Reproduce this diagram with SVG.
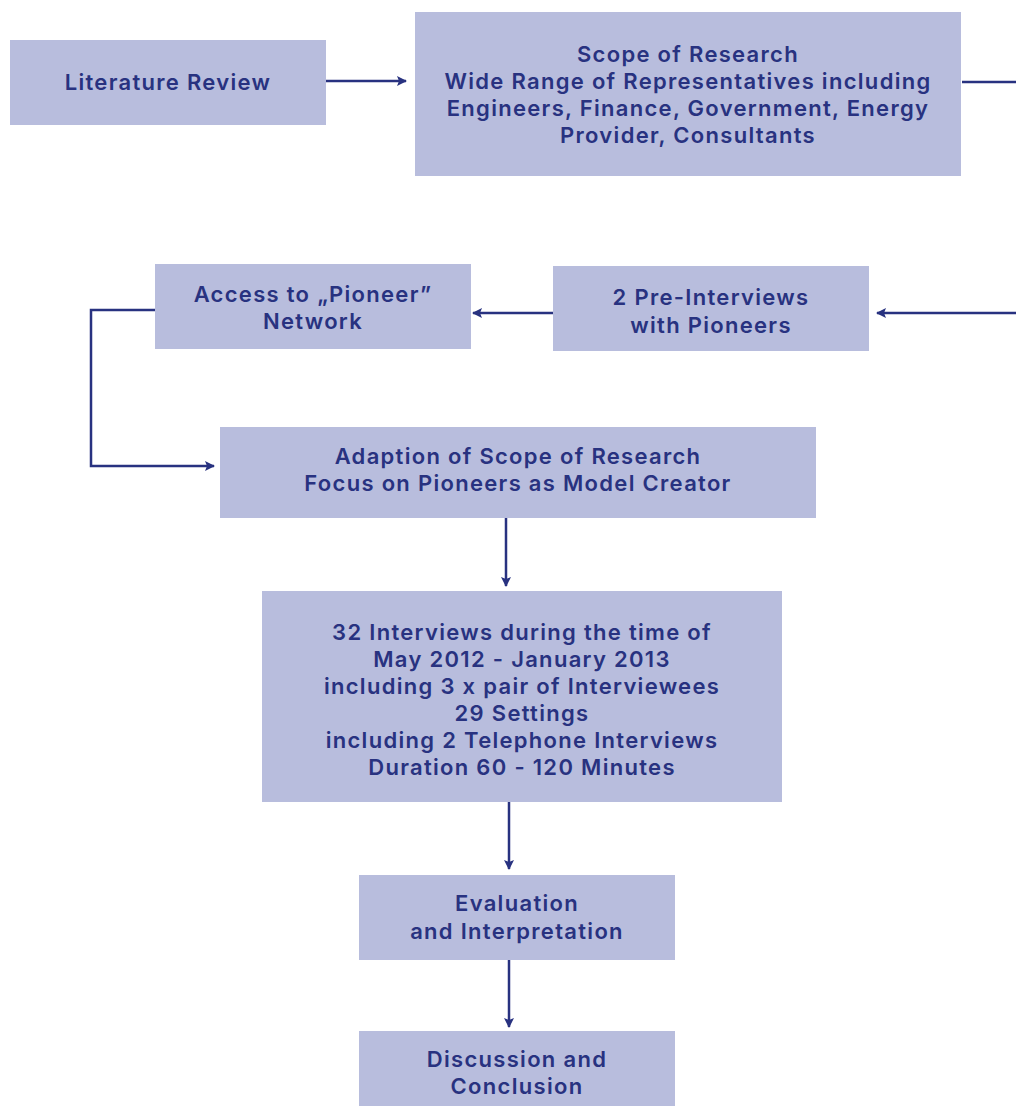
<svg xmlns="http://www.w3.org/2000/svg" width="1016" height="1106" viewBox="0 0 1016 1106">
  <style>
    .box { fill: #b8bddd; }
    .lbl { font-family: Inter, "Noto Sans", sans-serif; font-weight: 600; font-size: 22px; fill: #283280; text-anchor: middle; letter-spacing: 1.3px; }
    .wire { fill: none; stroke: #283280; stroke-width: 2.5; }
  </style>
  <defs>
    <marker id="arrow" viewBox="0 0 10 10" refX="9" refY="5" markerWidth="4" markerHeight="4" orient="auto" markerUnits="strokeWidth">
      <path d="M0,0 L10,5 L0,10 L2,5 Z" fill="#283280"/>
    </marker>
  </defs>

  <rect width="1016" height="1106" fill="#ffffff"/>

  <g id="connectors">
    <line class="wire" x1="326" y1="81" x2="406" y2="81" marker-end="url(#arrow)"/>
    <line class="wire" x1="962" y1="82" x2="1016" y2="82"/>
    <line class="wire" x1="1016" y1="313" x2="877" y2="313" marker-end="url(#arrow)"/>
    <line class="wire" x1="553" y1="313" x2="473" y2="313" marker-end="url(#arrow)"/>
    <polyline class="wire" points="155,310 91,310 91,466 214,466" marker-end="url(#arrow)"/>
    <line class="wire" x1="506" y1="518" x2="506" y2="586" marker-end="url(#arrow)"/>
    <line class="wire" x1="509" y1="802" x2="509" y2="869" marker-end="url(#arrow)"/>
    <line class="wire" x1="509" y1="960" x2="509" y2="1027" marker-end="url(#arrow)"/>
  </g>

  <g id="literature-review">
    <rect class="box" x="10" y="40" width="316" height="85"/>
    <text class="lbl" x="168" y="90">Literature Review</text>
  </g>

  <g id="scope-of-research">
    <rect class="box" x="415" y="12" width="546" height="164"/>
    <text class="lbl" x="688" y="62">Scope of Research</text>
    <text class="lbl" x="688" y="89">Wide Range of Representatives including</text>
    <text class="lbl" x="688" y="116">Engineers, Finance, Government, Energy</text>
    <text class="lbl" x="688" y="143">Provider, Consultants</text>
  </g>

  <g id="pre-interviews">
    <rect class="box" x="553" y="266" width="316" height="85"/>
    <text class="lbl" x="711" y="305">2 Pre-Interviews</text>
    <text class="lbl" x="711" y="333">with Pioneers</text>
  </g>

  <g id="pioneer-network">
    <rect class="box" x="155" y="264" width="316" height="85"/>
    <text class="lbl" x="313" y="302">Access to „Pioneer”</text>
    <text class="lbl" x="313" y="329">Network</text>
  </g>

  <g id="adaption">
    <rect class="box" x="220" y="427" width="596" height="91"/>
    <text class="lbl" x="518" y="464">Adaption of Scope of Research</text>
    <text class="lbl" x="518" y="491">Focus on Pioneers as Model Creator</text>
  </g>

  <g id="interviews">
    <rect class="box" x="262" y="591" width="520" height="211"/>
    <text class="lbl" x="522" y="640">32 Interviews during the time of</text>
    <text class="lbl" x="522" y="667">May 2012 - January 2013</text>
    <text class="lbl" x="522" y="694">including 3 x pair of Interviewees</text>
    <text class="lbl" x="522" y="721">29 Settings</text>
    <text class="lbl" x="522" y="748">including 2 Telephone Interviews</text>
    <text class="lbl" x="522" y="775">Duration 60 - 120 Minutes</text>
  </g>

  <g id="evaluation">
    <rect class="box" x="359" y="875" width="316" height="85"/>
    <text class="lbl" x="517" y="911">Evaluation</text>
    <text class="lbl" x="517" y="939">and Interpretation</text>
  </g>

  <g id="discussion">
    <rect class="box" x="359" y="1031" width="316" height="75"/>
    <text class="lbl" x="517" y="1067">Discussion and</text>
    <text class="lbl" x="517" y="1094">Conclusion</text>
  </g>
</svg>
